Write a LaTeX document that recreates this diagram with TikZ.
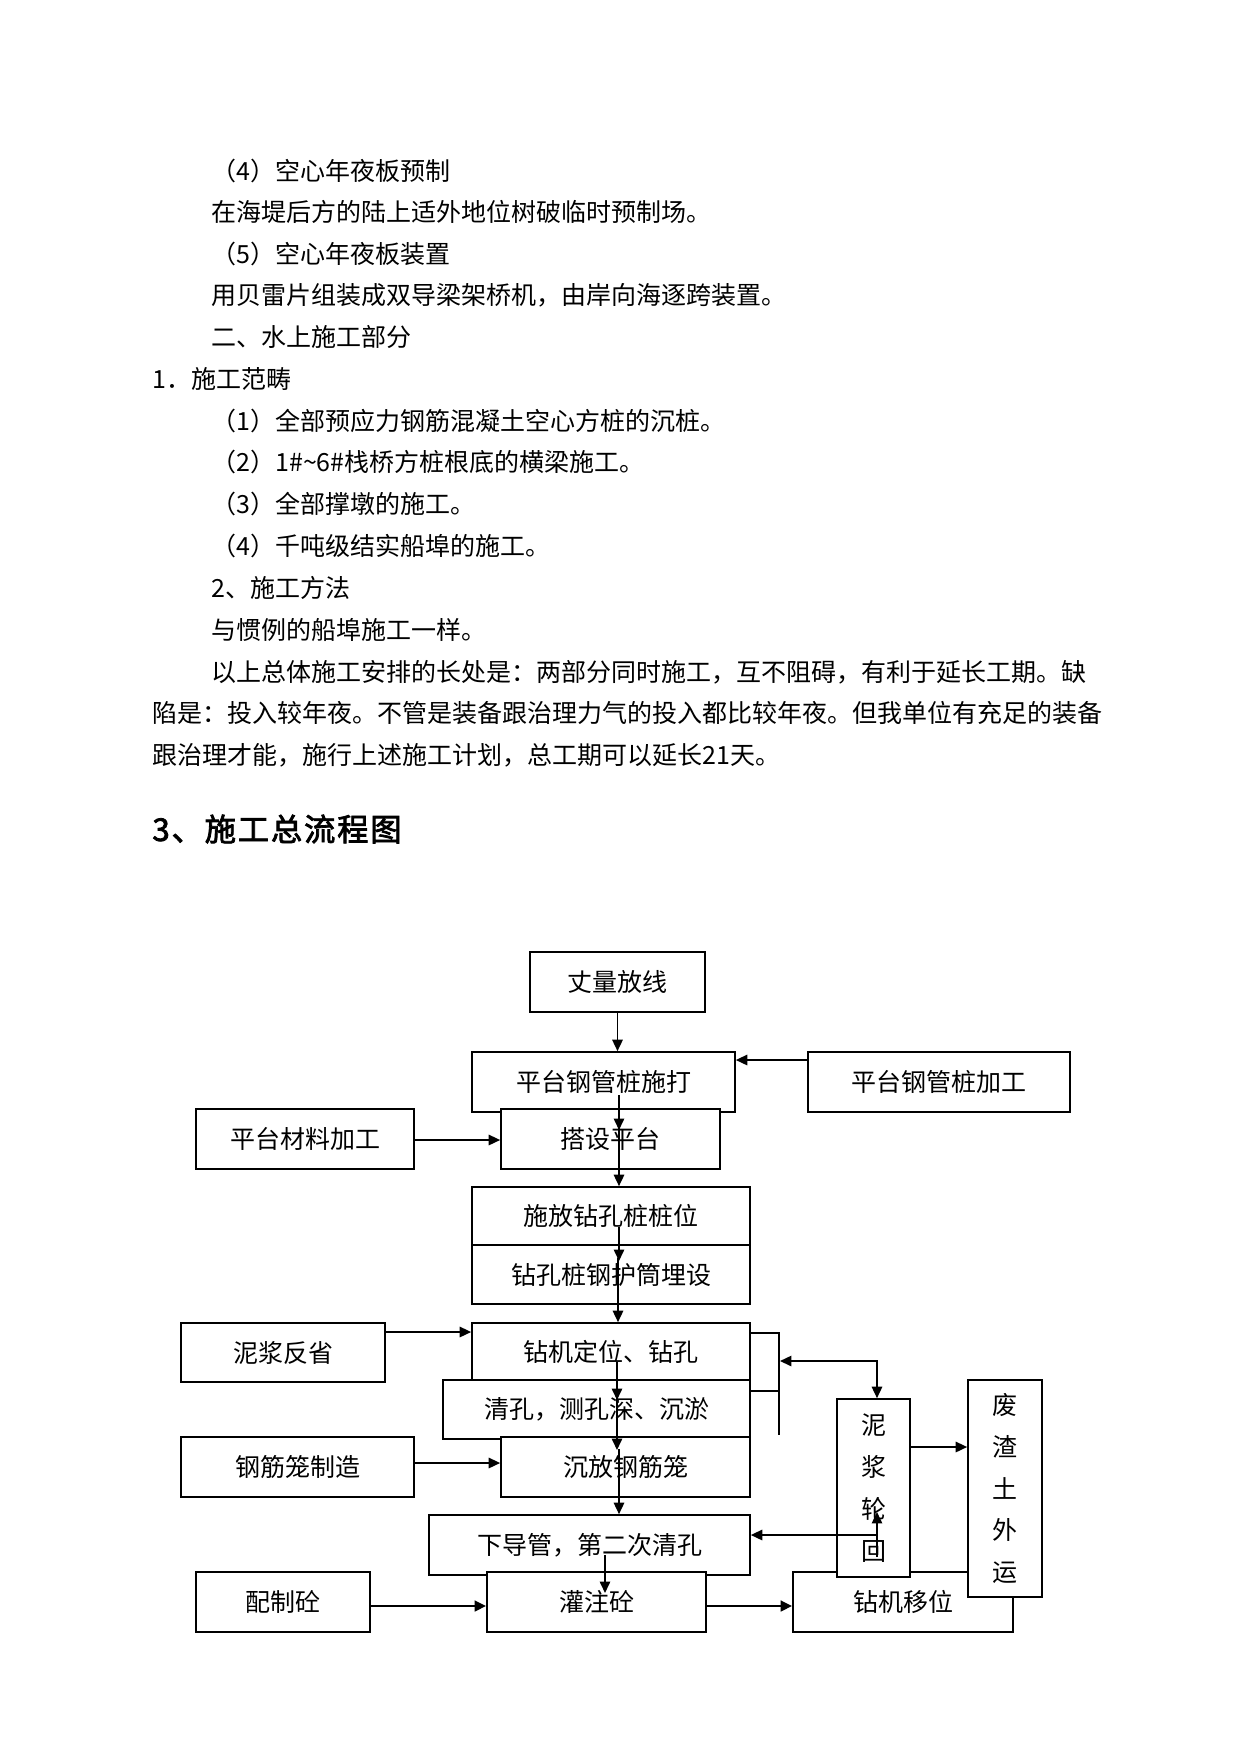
\documentclass[tikz,border=0pt]{standalone}
\usepackage{fontspec}
\newfontfamily\cjk{Noto Sans CJK SC}
\newfontfamily\cjkb[AutoFakeBold=2.5,LetterSpace=6]{Noto Sans CJK SC}
\usetikzlibrary{arrows.meta}
\begin{document}
\begin{tikzpicture}[x=0.48pt,y=-0.48pt,
  box/.style={draw, line width=0.8pt, fill=white, inner sep=0pt, font=\cjk\fontsize{12}{14}\selectfont},
  vbox/.style={draw, line width=0.8pt, fill=white, inner sep=0pt, align=center, font=\cjk\fontsize{12}{20.1}\selectfont},
  txt/.style={anchor=west, inner sep=0pt, font=\cjk\fontsize{12}{14}\selectfont},
  arr/.style={-{Triangle[length=5.5pt,width=5pt]}, line width=0.8pt},
  tarr/.style={-{Triangle[length=5.5pt,width=5pt]}, line width=1.4pt},
  darr/.style={{Triangle[length=5.5pt,width=5pt]}-{Triangle[length=5.5pt,width=5pt]}, line width=0.8pt},
  bline/.style={line width=0.9pt},
  tline/.style={line width=0.5pt}]
\useasboundingbox (0,0) rectangle (1241,1755);
\fill[white] (0,0) rectangle (1241,1755);

% body text
\node[txt] (t1) at (211,171) {（4）空心年夜板预制};
\node[txt] (t2) at (211,212) {在海堤后方的陆上适外地位树破临时预制场。};
\node[txt] (t3) at (211,254) {（5）空心年夜板装置};
\node[txt] (t4) at (211,295) {用贝雷片组装成双导梁架桥机，由岸向海逐跨装置。};
\node[txt] (t5) at (211,337) {二、水上施工部分};
\node[txt] (t6) at (152,379) {1．施工范畴};
\node[txt] (t7) at (211,421) {（1）全部预应力钢筋混凝土空心方桩的沉桩。};
\node[txt] (t8) at (211,462) {（2）1\#\textasciitilde6\#栈桥方桩根底的横梁施工。};
\node[txt] (t9) at (211,504) {（3）全部撑墩的施工。};
\node[txt] (t10) at (211,546) {（4）千吨级结实船埠的施工。};
\node[txt] (t11) at (211,588) {2、施工方法};
\node[txt] (t12) at (211,630) {与惯例的船埠施工一样。};
\node[txt] (t13) at (211,672) {以上总体施工安排的长处是：两部分同时施工，互不阻碍，有利于延长工期。缺};
\node[txt] (t14) at (152,713) {陷是：投入较年夜。不管是装备跟治理力气的投入都比较年夜。但我单位有充足的装备};
\node[txt] (t15) at (152,755) {跟治理才能，施行上述施工计划，总工期可以延长21天。};
\node[txt, font=\cjkb\bfseries\fontsize{15}{18}\selectfont] (title) at (152,829) {3、施工总流程图};

% flow chart boxes
\node[box, minimum width=84pt, minimum height=28.8pt] (zlfx) at (617.5,982) {丈量放线};
\node[box, minimum width=126.24pt, minimum height=28.8pt] (ptsd) at (603.5,1082) {平台钢管桩施打};
\node[box, minimum width=125.76pt, minimum height=28.8pt] (ptjg) at (939,1082) {平台钢管桩加工};
\node[box, minimum width=104.64pt, minimum height=28.8pt] (clj) at (305,1139) {平台材料加工};
\node[box, minimum width=105.12pt, minimum height=28.8pt] (dspt) at (610.5,1139) {搭设平台};
\node[box, minimum width=133.44pt, minimum height=27.84pt] (sfzk) at (611,1216) {施放钻孔桩桩位};
\node[box, minimum width=133.44pt, minimum height=28.32pt] (hutong) at (611,1274.5) {钻孔桩钢护筒埋设};
\node[box, minimum width=97.92pt, minimum height=28.32pt] (njfx) at (283,1352.5) {泥浆反省};
\node[box, minimum width=133.44pt, minimum height=27.36pt] (zjdw) at (611,1351.5) {钻机定位、钻孔};
\node[box, minimum width=147.36pt, minimum height=28.32pt] (qk) at (596.5,1409.5) {清孔，测孔深、沉淤};
\node[box, minimum width=111.84pt, minimum height=28.8pt] (gjlz) at (297.5,1467) {钢筋笼制造};
\node[box, minimum width=119.52pt, minimum height=28.8pt] (cfgjl) at (625.5,1467) {沉放钢筋笼};
\node[box, minimum width=154.08pt, minimum height=28.8pt] (xdg) at (589.5,1545) {下导管，第二次清孔};
\node[box, minimum width=83.52pt, minimum height=28.8pt] (pzt) at (283,1602) {配制砼};
\node[box, minimum width=105.12pt, minimum height=28.8pt] (gzt) at (596.5,1602) {灌注砼};
\node[box, minimum width=105.6pt, minimum height=28.8pt] (zjyw) at (903,1602) {钻机移位};
\node[vbox, minimum width=35.04pt, minimum height=85.44pt] (njlh) at (873.5,1488) {泥\\浆\\轮\\回};
\node[vbox, minimum width=35.52pt, minimum height=104.16pt] (fzt) at (1005,1488.5) {废\\渣\\土\\外\\运};

% helper coordinates
\coordinate (h1) at (0,1060);
\coordinate (h2) at (0,1140);
\coordinate (h3) at (0,1332);
\coordinate (h4) at (0,1463);
\coordinate (h5) at (0,1606);
\coordinate (h6) at (0,1333);
\coordinate (h7) at (0,1391);
\coordinate (h8) at (0,1447);
\coordinate (p1) at (619,1095);
\coordinate (p2) at (619,1130);
\coordinate (p3) at (619,1127);
\coordinate (p4) at (619,1227);
\coordinate (p5) at (619,1261);
\coordinate (p6) at (618,1258);
\coordinate (p7) at (617,1362);
\coordinate (p8) at (617,1400);
\coordinate (p9) at (617,1397);
\coordinate (p10) at (617,1450);
\coordinate (p11) at (619,1449);
\coordinate (p12) at (605,1555);
\coordinate (p13) at (605,1593);
\coordinate (b1) at (779,1333);
\coordinate (b2) at (779,1387);
\coordinate (b3) at (779,1435);
\coordinate (c1) at (780,1361);
\coordinate (c2) at (877,1361);
\coordinate (d1) at (877,1557);
\coordinate (d2) at (877,1512);
\coordinate (d3) at (877,1535);

% connectors
\draw[arr] (zlfx.south) -- (zlfx.south |- ptsd.north);
\draw[arr] (ptjg.west |- h1) -- (ptsd.east |- h1);
\draw[arr] (p1) -- (p2);
\draw[arr] (p3) -- (p3 |- sfzk.north);
\draw[arr] (clj.east |- h2) -- (dspt.west |- h2);
\draw[arr] (p4) -- (p5);
\draw[arr] (p6) -- (p6 |- zjdw.north);
\draw[arr] (njfx.east |- h3) -- (zjdw.west |- h3);
\draw[arr] (p7) -- (p8);
\draw[arr] (p9) -- (p10);
\draw[arr] (gjlz.east |- h4) -- (cfgjl.west |- h4);
\draw[arr] (p11) -- (p11 |- xdg.north);
\draw[arr] (p12) -- (p13);
\draw[tarr] (pzt.east |- h5) -- (gzt.west |- h5);
\draw[tarr] (gzt.east |- h5) -- (zjyw.west |- h5);
\draw[bline] (zjdw.east |- h6) -- (b1) -- (b2);
\draw[tline] (zjdw.east |- h7) -- (b1 |- h7);
\draw[tline] (b2) -- (b3);
\draw[darr] (c1) -- (c2) -- (c2 |- njlh.north);
\draw[arr] (njlh.east |- h8) -- (fzt.west |- h8);
\draw[arr] (d1) -- (d2);
\draw[arr] (d3) -- (xdg.east |- d3);
\end{tikzpicture}
\end{document}
